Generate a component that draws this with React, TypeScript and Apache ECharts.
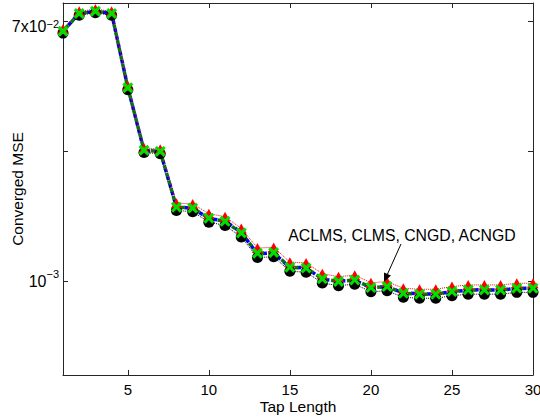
import React, { useEffect, useRef } from 'react';
import * as echarts from 'echarts';

const tapLengths = [1, 2, 3, 4, 5, 6, 7, 8, 9, 10, 11, 12, 13, 14, 15, 16, 17, 18, 19, 20, 21, 22, 23, 24, 25, 26, 27, 28, 29, 30];

const aclms = [0.081, 0.111, 0.116, 0.111, 0.0298, 0.0098, 0.0096, 0.00352, 0.00344, 0.00286, 0.0027, 0.0022, 0.00153, 0.00155, 0.0012, 0.00118, 0.000975, 0.00093, 0.000955, 0.000835, 0.00085, 0.000757, 0.000744, 0.000744, 0.000778, 0.0008, 0.0008, 0.0008, 0.000826, 0.000826];
const clms = [0.087, 0.119, 0.124, 0.119, 0.032, 0.0106, 0.0104, 0.004, 0.00395, 0.00332, 0.00315, 0.00256, 0.00181, 0.00183, 0.00141, 0.00139, 0.00115, 0.00109, 0.00112, 0.00098, 0.000998, 0.000888, 0.000873, 0.000873, 0.000915, 0.000942, 0.000942, 0.000942, 0.00097, 0.00097];
const cngd = [0.0838, 0.1146, 0.1194, 0.1146, 0.0308, 0.0102, 0.01, 0.00373, 0.00367, 0.00307, 0.0029, 0.00236, 0.00165, 0.00167, 0.00129, 0.00127, 0.00105, 0.001, 0.00103, 0.000899, 0.000915, 0.000814, 0.0008, 0.0008, 0.000838, 0.000863, 0.000863, 0.000863, 0.00089, 0.00089];
const acngd = [0.084, 0.115, 0.119, 0.115, 0.031, 0.0101, 0.01, 0.00375, 0.00365, 0.00305, 0.00292, 0.00238, 0.00163, 0.00166, 0.00128, 0.00128, 0.00104, 0.00101, 0.00102, 0.000905, 0.00091, 0.000818, 0.000805, 0.000802, 0.000835, 0.00086, 0.000865, 0.00086, 0.000885, 0.000888];

const xTickValues = [5, 10, 15, 20, 25, 30];
const yMin = 0.0001915;
const yMax = 0.138;
const annotationText = 'ACLMS, CLMS, CNGD, ACNGD';

const FONT = "'Liberation Sans', Arial, Helvetica, sans-serif";
const AXIS_COLOR = '#262626';
const X_SYMBOL = 'path://M2,0 L5,3 L8,0 L10,2 L7,5 L10,8 L8,10 L5,7 L2,10 L0,8 L3,5 L0,2 Z';

function pairs(values: number[]) {
  return tapLengths.map((t, i) => [t, values[i]]);
}

function yLabel(v: number) {
  if (Math.abs(v - 0.001) < 1e-9) return '{b|10}{s|\u22123}';
  if (Math.abs(v - 0.1) < 1e-7) return '{c|7x10}{t|\u22122}';
  return '';
}

export default function App() {
  const ref = useRef<HTMLDivElement>(null);
  useEffect(() => {
    if (!ref.current) return;
    const chart = echarts.init(ref.current, null, { renderer: 'svg' });
    const axisLine = { show: true, lineStyle: { color: AXIS_COLOR, width: 1 } };
    const rich = {
      b: { fontSize: 16, fontFamily: FONT, color: '#000', lineHeight: 26 },
      s: { fontSize: 11, fontFamily: FONT, color: '#000', lineHeight: 12, verticalAlign: 'top' },
      c: { fontSize: 16, fontFamily: FONT, color: '#000', lineHeight: 26, padding: [10, 0, 0, 0] },
      t: { fontSize: 11, fontFamily: FONT, color: '#000', lineHeight: 12, verticalAlign: 'top', padding: [10, 0, 0, 0] },
    };
    chart.setOption({
      animation: false,
      backgroundColor: '#ffffff',
      grid: { left: 63, right: 7, top: 3, bottom: 42, show: false, containLabel: false, outerBoundsMode: 'none' },
      xAxis: [
        {
          type: 'value',
          min: 1,
          max: 30,
          position: 'bottom',
          name: 'Tap Length',
          nameLocation: 'middle',
          nameGap: 23,
          nameMoveOverlap: false,
          nameTextStyle: { fontSize: 15.5, fontFamily: FONT, color: '#000' },
          axisLine,
          axisTick: { show: true, inside: true, length: 5, customValues: xTickValues, lineStyle: { color: AXIS_COLOR } },
          axisLabel: { show: true, customValues: xTickValues, fontSize: 15, fontFamily: FONT, color: '#000', margin: 7 },
          splitLine: { show: false },
        },
        {
          type: 'value',
          min: 1,
          max: 30,
          position: 'top',
          axisLine,
          axisTick: { show: true, inside: true, length: 5, customValues: xTickValues, lineStyle: { color: AXIS_COLOR } },
          axisLabel: { show: false },
          splitLine: { show: false },
        },
      ],
      yAxis: [
        {
          type: 'log',
          logBase: 10,
          min: yMin,
          max: yMax,
          position: 'left',
          name: 'Converged MSE',
          nameLocation: 'middle',
          nameGap: 38,
          nameMoveOverlap: false,
          nameTextStyle: { fontSize: 15.5, fontFamily: FONT, color: '#000' },
          axisLine,
          axisTick: { show: true, inside: true, length: 5, lineStyle: { color: AXIS_COLOR } },
          axisLabel: { show: true, margin: 4, formatter: yLabel, rich, showMinLabel: false, showMaxLabel: false },
          splitLine: { show: false },
        },
        {
          type: 'log',
          logBase: 10,
          min: yMin,
          max: yMax,
          position: 'right',
          axisLine,
          axisTick: { show: true, inside: true, length: 5, lineStyle: { color: AXIS_COLOR } },
          axisLabel: { show: false },
          splitLine: { show: false },
        },
      ],
      series: [
        {
          name: 'ACNGD',
          type: 'line',
          data: pairs(acngd),
          showSymbol: false,
          symbol: 'none',
          lineStyle: { color: '#0000ff', width: 3.5, type: [4, 4], dashOffset: 0 },
        },
        {
          name: 'ACLMS',
          type: 'line',
          data: pairs(aclms),
          symbol: 'circle',
          symbolSize: 11,
          itemStyle: { color: '#000000' },
          lineStyle: { color: '#000000', width: 1, type: 'dotted' },
        },
        {
          name: 'CLMS',
          type: 'line',
          data: pairs(clms),
          symbol: 'triangle',
          symbolSize: [11, 10],
          itemStyle: { color: '#ff0000' },
          lineStyle: { color: '#ff0000', width: 1, type: 'dotted' },
        },
        {
          name: 'CNGD',
          type: 'line',
          data: pairs(cngd),
          symbol: X_SYMBOL,
          symbolSize: 11,
          itemStyle: { color: '#00e000' },
          lineStyle: { color: '#107010', width: 3.5, type: [4, 4], dashOffset: 4 },
        },
      ],
      graphic: [
        {
          type: 'text',
          x: 402,
          y: 235,
          style: {
            text: annotationText,
            fontSize: 15.8,
            fontFamily: FONT,
            fill: '#000',
            textAlign: 'center',
            textVerticalAlign: 'middle',
          },
          z: 100,
        },
        {
          type: 'line',
          shape: { x1: 401, y1: 244, x2: 387.5, y2: 274 },
          style: { stroke: '#000', lineWidth: 1 },
          z: 100,
        },
        {
          type: 'polygon',
          shape: { points: [[384, 282], [391, 275.5], [384, 272.5]] },
          style: { fill: '#000' },
          z: 100,
        },
      ],
    });
    return () => chart.dispose();
  }, []);
  return <div ref={ref} style={{ position: 'fixed', left: 0, top: 0, width: 540, height: 417 }} />;
}
